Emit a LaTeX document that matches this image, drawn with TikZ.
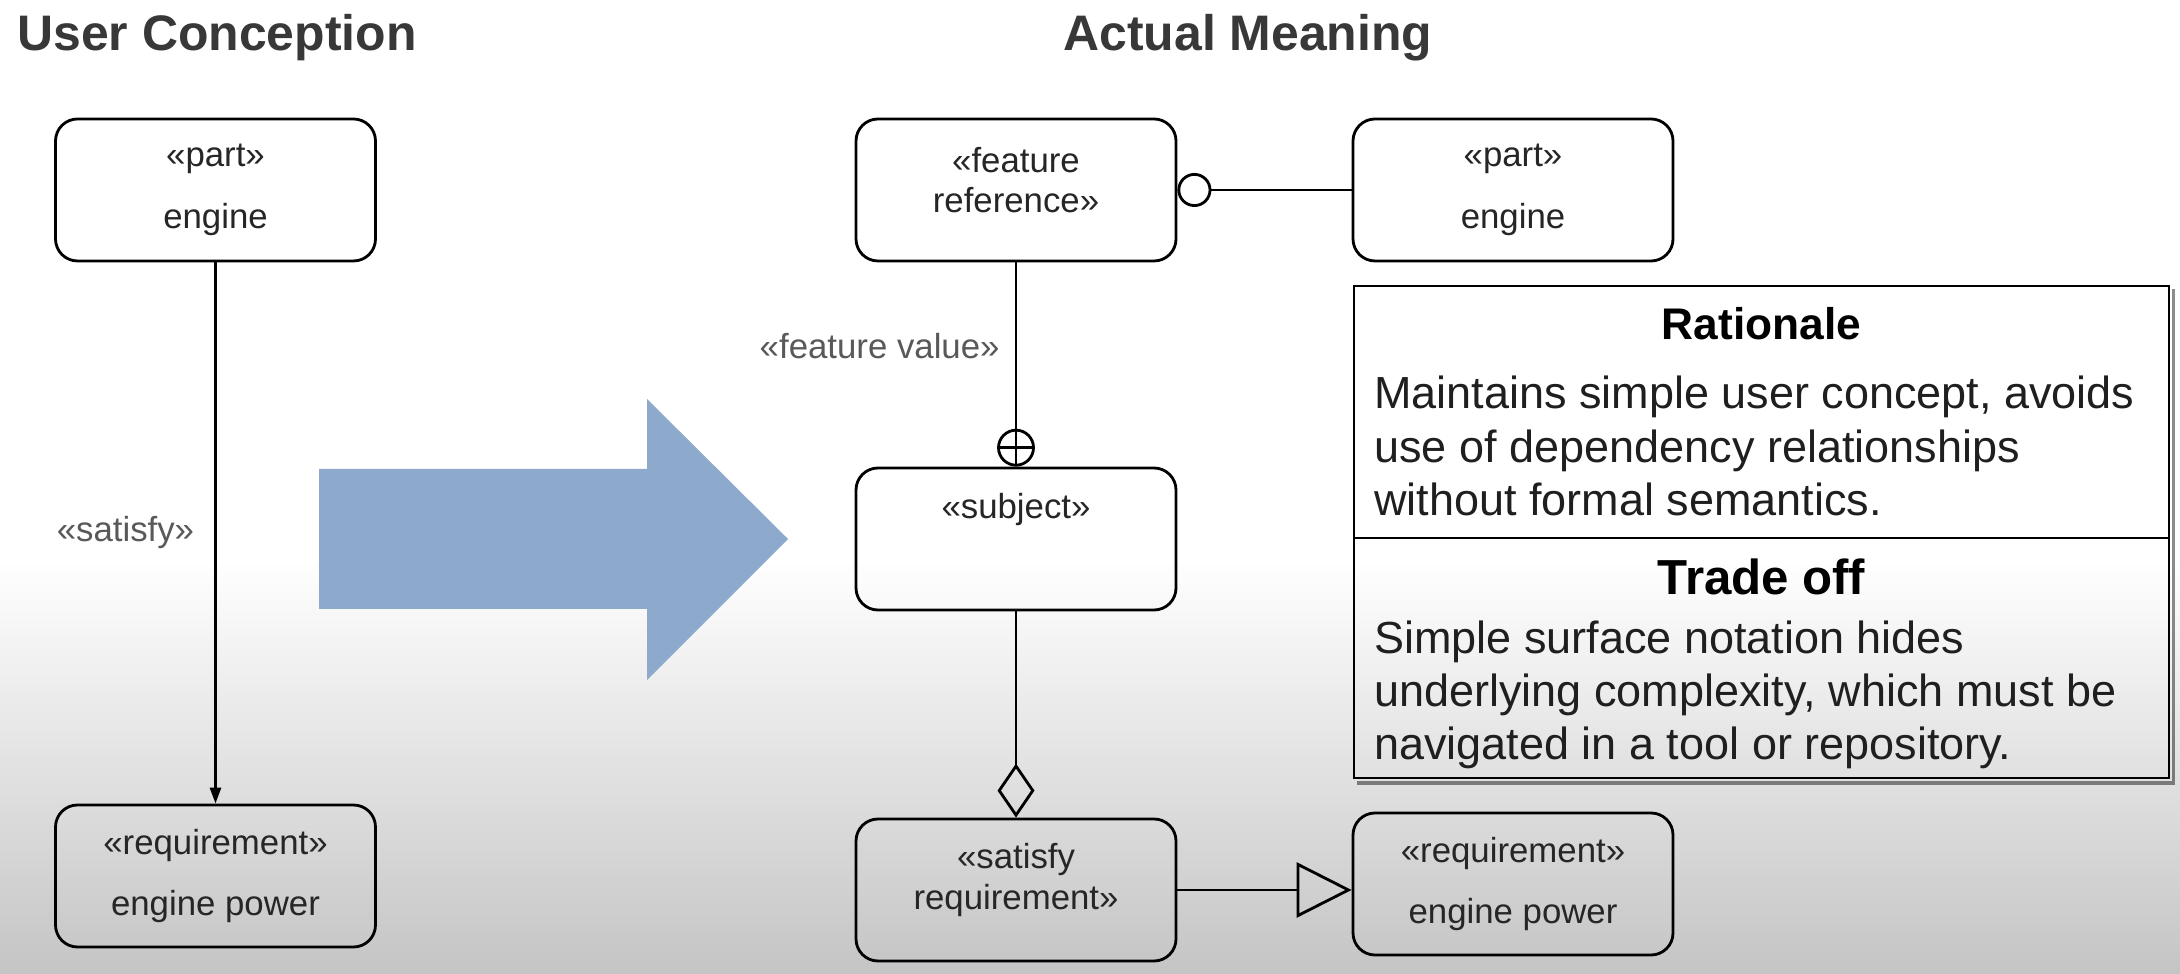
\documentclass[tikz,border=0pt]{standalone}
\usepackage{fontspec}
\setmainfont{Liberation Sans}
\usetikzlibrary{positioning,arrows.meta}
\definecolor{arrowblue}{RGB}{141,169,204}
\begin{document}
\begin{tikzpicture}[line width=0.8pt,
  boxtext/.style={align=center,inner sep=0pt,text=black!85,font=\fontsize{9.9}{17.5}\selectfont},
  twoline/.style={font=\fontsize{9.9}{11.4}\selectfont},
  umlbox/.style={boxtext,draw,rounded corners=0.22cm,minimum width=3.2cm,minimum height=1.42cm},
  stereo/.style={inner sep=0pt,text=black!65,font=\fontsize{9.9}{12}\selectfont},
  heading/.style={inner sep=0pt,anchor=base west,text=black!78,font=\fontsize{14.2}{17}\selectfont\bfseries},
  notebox/.style={draw,minimum width=8.15cm,inner sep=0pt},
  notetext/.style={inner sep=0pt,anchor=north west,align=left,text=black!88,font=\fontsize{12.8}{15.2}\selectfont},
  oplus/.style={draw,circle,minimum size=0.35cm,inner sep=0pt,
    path picture={\draw (path picture bounding box.north) -- (path picture bounding box.south)
      (path picture bounding box.west) -- (path picture bounding box.east);}}]

\useasboundingbox (0,0) rectangle (21.8,-9.74);
\fill[white] (0,0) rectangle (21.8,-5.6);
\shade[top color=white,bottom color=black!23] (0,-5.6) rectangle (21.8,-9.74);

\node[heading] (ucTitle) at (0.16,-0.51) {User Conception};
\node[heading] (amTitle) at (10.62,-0.51) {Actual Meaning};

\node[umlbox] (ucPart) at (2.155,-1.90) {«part»\\engine};
\node[umlbox] (ucReq) at (2.155,-8.76) {«requirement»\\engine power};
\draw[-{Triangle[length=0.16cm,width=0.11cm]}] (ucPart) -- (ucReq)
  node[midway,left=0.2cm,stereo] {«satisfy»};

\fill[arrowblue] (3.19,-4.69) -- (6.47,-4.69) -- (6.47,-3.99) -- (7.88,-5.39)
  -- (6.47,-6.80) -- (6.47,-6.09) -- (3.19,-6.09) -- cycle;

\node[umlbox] (frRef) at (10.16,-1.90) {};
\node[boxtext,twoline] (frRefText) at ([yshift=0.10cm]frRef.center) {«feature\\reference»};
\node[umlbox] (rPart) at (15.13,-1.90) {«part»\\engine};
\draw[{Circle[open,length=0.34cm]}-] (frRef) -- (rPart);

\node[umlbox] (subj) at (10.16,-5.39) {};
\node[boxtext] (subjText) at ([yshift=0.29cm]subj.center) {«subject»};
\node[oplus,above=0pt of subj] (fvEnd) {};
\draw (frRef) -- (fvEnd) node[midway,left=0.15cm,stereo] {«feature value»};

\node[umlbox] (satReq) at (10.16,-8.90) {};
\node[boxtext,twoline] (satReqText) at ([yshift=0.10cm]satReq.center) {«satisfy\\requirement»};
\draw[{Diamond[open,length=0.54cm,width=0.37cm]}-] (satReq) -- (subj);

\node[umlbox] (rReq) at (15.13,-8.84) {«requirement»\\engine power};
\draw[-{Triangle[open,length=0.55cm,width=0.55cm]}] (satReq.east) -- (satReq.east -| rReq.west);

\node[notebox,minimum height=2.52cm] (ratBox) at (17.615,-4.12) {};
\node[notebox,minimum height=2.40cm] (tradeBox) at (17.615,-6.58) {};
\fill[black,opacity=0.45] ([xshift=0.04cm,yshift=-0.015cm]tradeBox.south west) rectangle ([xshift=0.045cm,yshift=-0.055cm]tradeBox.south east);
\fill[black,opacity=0.45] ([xshift=0.015cm,yshift=-0.04cm]ratBox.north east) rectangle ([xshift=0.045cm,yshift=-0.015cm]tradeBox.south east);

\node[inner sep=0pt,anchor=base,font=\fontsize{12.6}{15}\selectfont\bfseries] (ratHead) at (17.615,-3.40) {Rationale};
\node[notetext] (ratText) at (13.73,-3.75) {Maintains simple user concept, avoids\\use of dependency relationships\\without formal semantics.};
\node[inner sep=0pt,anchor=base,font=\fontsize{14}{16}\selectfont\bfseries] (tradeHead) at (17.615,-5.95) {Trade off};
\node[notetext] (tradeText) at (13.73,-6.19) {Simple surface notation hides\\underlying complexity, which must be\\navigated in a tool or repository.};
\end{tikzpicture}
\end{document}
